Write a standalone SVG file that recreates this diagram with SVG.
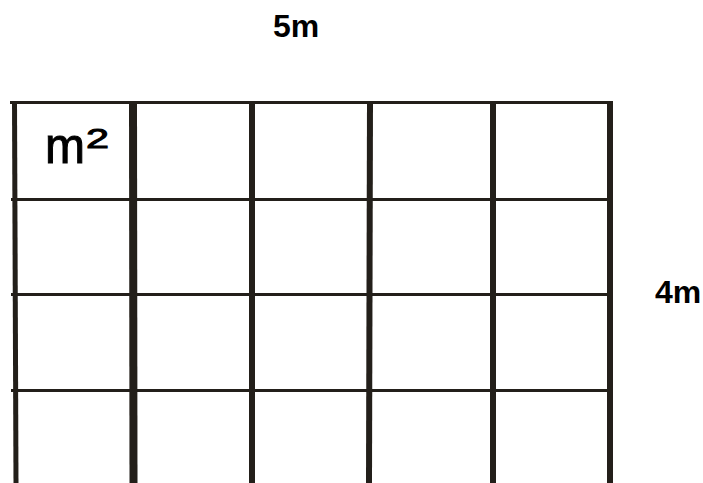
<svg xmlns="http://www.w3.org/2000/svg" width="703" height="483" viewBox="0 0 703 483">
<style>
.v{stroke:#231f1a;stroke-width:6;fill:none}
.h{stroke:#231f1a;stroke-width:3;fill:none}
.lbl{font-family:"Liberation Sans",Arial,sans-serif;font-weight:bold;font-size:32px;fill:#000}
.unit{font-family:"Liberation Sans",Arial,sans-serif;fill:#000;stroke:#000;stroke-width:1}
</style>
<rect width="703" height="483" fill="#fff"/>
<g id="grid">
<g id="horizontal">
<line class="h" x1="10" y1="102.5" x2="613" y2="102.5"/>
<line class="h" x1="11" y1="199.5" x2="613" y2="199.5"/>
<line class="h" x1="11" y1="294.5" x2="613" y2="294.5"/>
<line class="h" x1="11" y1="390.5" x2="613" y2="390.5"/>
</g>
<g id="vertical">
<line class="v" x1="14.5" y1="101" x2="16" y2="483" style="stroke-width:5"/>
<line class="v" x1="133" y1="101" x2="133.5" y2="483" style="stroke-width:8"/>
<line class="v" x1="252" y1="101" x2="252" y2="483"/>
<line class="v" x1="370" y1="101" x2="369" y2="483"/>
<line class="v" x1="493" y1="101" x2="493" y2="483"/>
<line class="v" x1="610" y1="101" x2="610" y2="483"/>
</g>
</g>
<g id="labels">
<text class="lbl" x="296" y="37" text-anchor="middle">5m</text>
<text class="lbl" x="678" y="303" text-anchor="middle">4m</text>
<text class="unit" x="45" y="163" font-size="50" textLength="40" lengthAdjust="spacingAndGlyphs">m</text>
<text class="unit" x="86" y="148" font-size="28" textLength="23" lengthAdjust="spacingAndGlyphs">2</text>
</g>
</svg>
